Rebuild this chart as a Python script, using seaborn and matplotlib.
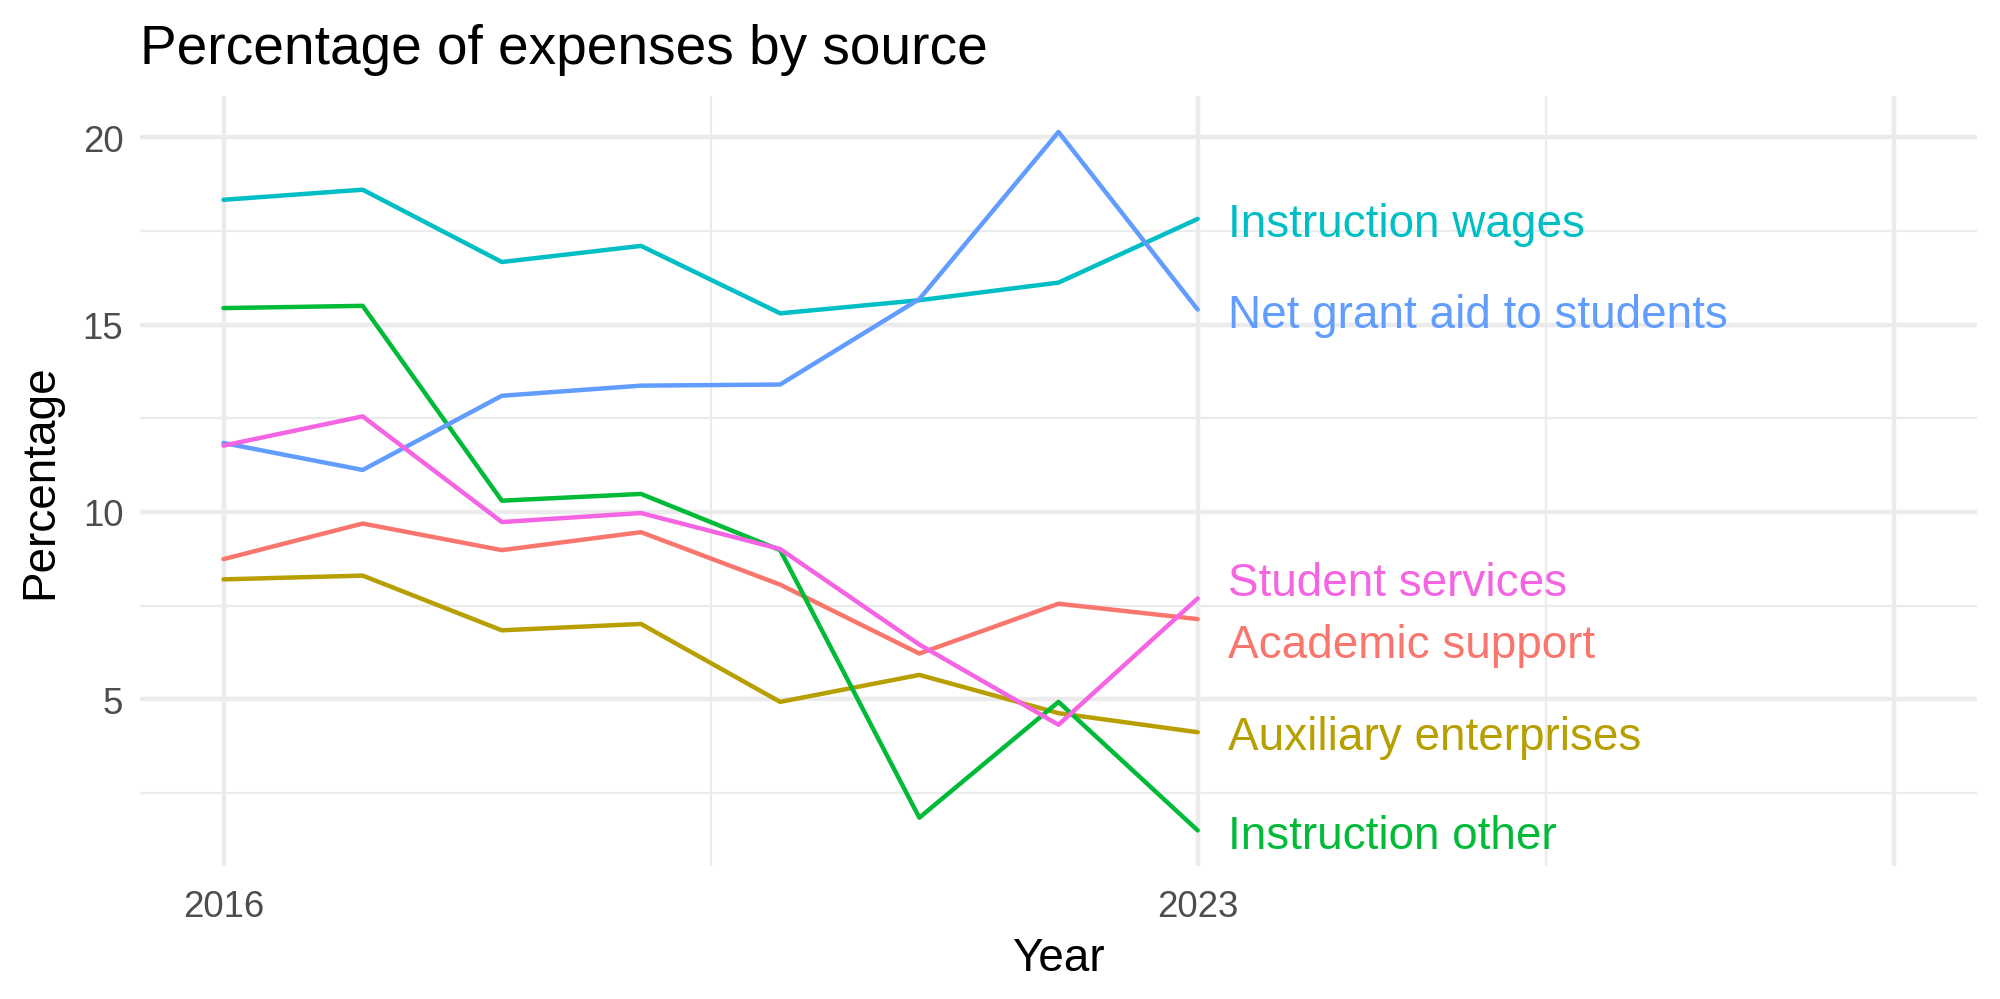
import numpy as np
import pandas as pd
import matplotlib
matplotlib.use("Agg")
import matplotlib.pyplot as plt
import seaborn as sns

years = [2016, 2017, 2018, 2019, 2020, 2021, 2022, 2023]
academic_support = [8.74, 9.69, 8.98, 9.46, 8.06, 6.22, 7.55, 7.14]
auxiliary_enterprises = [8.20, 8.30, 6.84, 7.01, 4.93, 5.65, 4.63, 4.12]
instruction_other = [15.44, 15.50, 10.30, 10.48, 8.98, 1.84, 4.93, 1.50]
instruction_wages = [18.33, 18.60, 16.67, 17.10, 15.30, 15.65, 16.12, 17.82]
net_grant_aid = [11.84, 11.12, 13.10, 13.37, 13.40, 15.68, 20.14, 15.40]
student_services = [11.77, 12.55, 9.73, 9.97, 9.01, 6.46, 4.32, 7.69]

sources = ["Academic support", "Auxiliary enterprises", "Instruction other",
           "Instruction wages", "Net grant aid to students", "Student services"]
colors = ["#F8766D", "#B79F00", "#00BA38", "#00BFC4", "#619CFF", "#F564E3"]

series = [academic_support, auxiliary_enterprises, instruction_other,
          instruction_wages, net_grant_aid, student_services]
df = pd.concat([pd.DataFrame({"Year": years, "Percentage": v, "Source": s})
                for s, v in zip(sources, series)], ignore_index=True)

sns.set_style("white")
plt.rcParams["font.family"] = ["Liberation Sans", "DejaVu Sans"]

fig = plt.figure(figsize=(6.6667, 3.3333), dpi=300)
ax = fig.add_axes([0.07, 0.133, 0.9185, 0.770])

ax.set_xticks([2016, 2023, 2028])
ax.set_xticklabels(["2016", "2023", ""])
ax.set_xticks([2019.5, 2025.5], minor=True)
ax.set_yticks([5, 10, 15, 20])
ax.set_yticks([2.5, 7.5, 12.5, 17.5], minor=True)
ax.grid(which="major", color="#EBEBEB", linewidth=1.07)
ax.grid(which="minor", color="#EBEBEB", linewidth=0.53)
ax.set_axisbelow(True)

sns.lineplot(data=df, x="Year", y="Percentage", hue="Source",
             palette=dict(zip(sources, colors)), linewidth=1.07,
             legend=False, ax=ax)

# end labels, pushed apart a little so they don't overlap
ends = [(v[-1], s, c) for v, s, c in zip(series, sources, colors)]
ends.sort(key=lambda t: -t[0])
ys = [e[0] for e in ends]
gap = 1.67
for _ in range(50):
    for i in range(len(ys) - 1):
        d = ys[i] - ys[i + 1]
        if d < gap:
            m = (ys[i] + ys[i + 1]) / 2
            ys[i] = m + gap / 2
            ys[i + 1] = m - gap / 2
for (v, s, c), y in zip(ends, ys):
    ax.text(2023.22, y - 0.14, s, color=c, fontsize=11.0, va="center", ha="left")

ax.set_xlim(2015.4, 2028.6)
ax.set_ylim(0.55, 21.1)
for sp in ax.spines.values():
    sp.set_visible(False)
ax.tick_params(which="both", length=0, labelsize=8.8, labelcolor="#4D4D4D")
ax.tick_params(axis="x", pad=5.5)
ax.tick_params(axis="y", pad=4)
ax.set_xlabel("Year", fontsize=11, color="black", labelpad=3)
ax.set_ylabel("Percentage", fontsize=11, color="black", labelpad=5)
ax.set_title("Percentage of expenses by source", fontsize=13.2, loc="left",
             color="black", pad=8)

fig.savefig("out.png", dpi=300)
